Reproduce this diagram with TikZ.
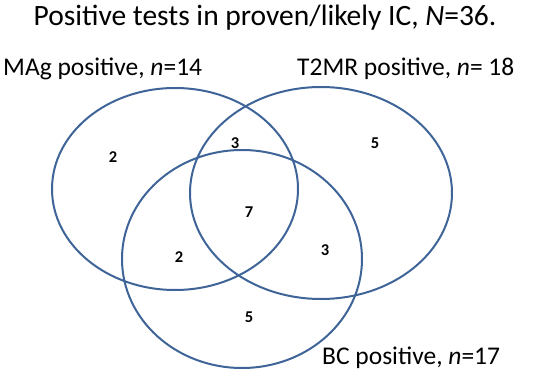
\documentclass[tikz,border=0pt]{standalone}
\usepackage{fontspec}
\setmainfont{Carlito}
\definecolor{vennblue}{RGB}{62,100,152}
\begin{document}
\begin{tikzpicture}[x=1pt,y=-1pt,
  ring/.style={draw=vennblue,line width=2pt},
  label/.style={font=\fontsize{25.5}{30}\selectfont,inner sep=0pt,anchor=base},
  count/.style={font=\fontsize{16.5}{18}\selectfont\bfseries,inner sep=0pt}]
\useasboundingbox (0,0) rectangle (550,372);
\draw[ring] (175,189) ellipse [x radius=123, y radius=101];
\draw[ring] (321,193) ellipse [x radius=131, y radius=106];
\draw[ring] (242,259) ellipse [x radius=120, y radius=109];
\node[label,font=\fontsize{29.5}{33}\selectfont] (title) at (265,25) {Positive tests in proven/likely IC, \textit{N}=36.};
\node[label,anchor=base west] (mag) at (3,75) {MAg positive, \textit{n}=14};
\node[label,anchor=base west] (t2) at (297,75) {T2MR positive, \textit{n}= 18};
\node[label,anchor=base west] (bc) at (322,364) {BC positive, \textit{n}=17};
\node[count] (a) at (113,157) {2};
\node[count] (ab) at (235,143) {3};
\node[count] (b) at (375,143) {5};
\node[count] (abc) at (249,212) {7};
\node[count] (ac) at (179,257) {2};
\node[count] (bcn) at (325,250) {3};
\node[count] (c) at (249,317) {5};
\end{tikzpicture}
\end{document}
